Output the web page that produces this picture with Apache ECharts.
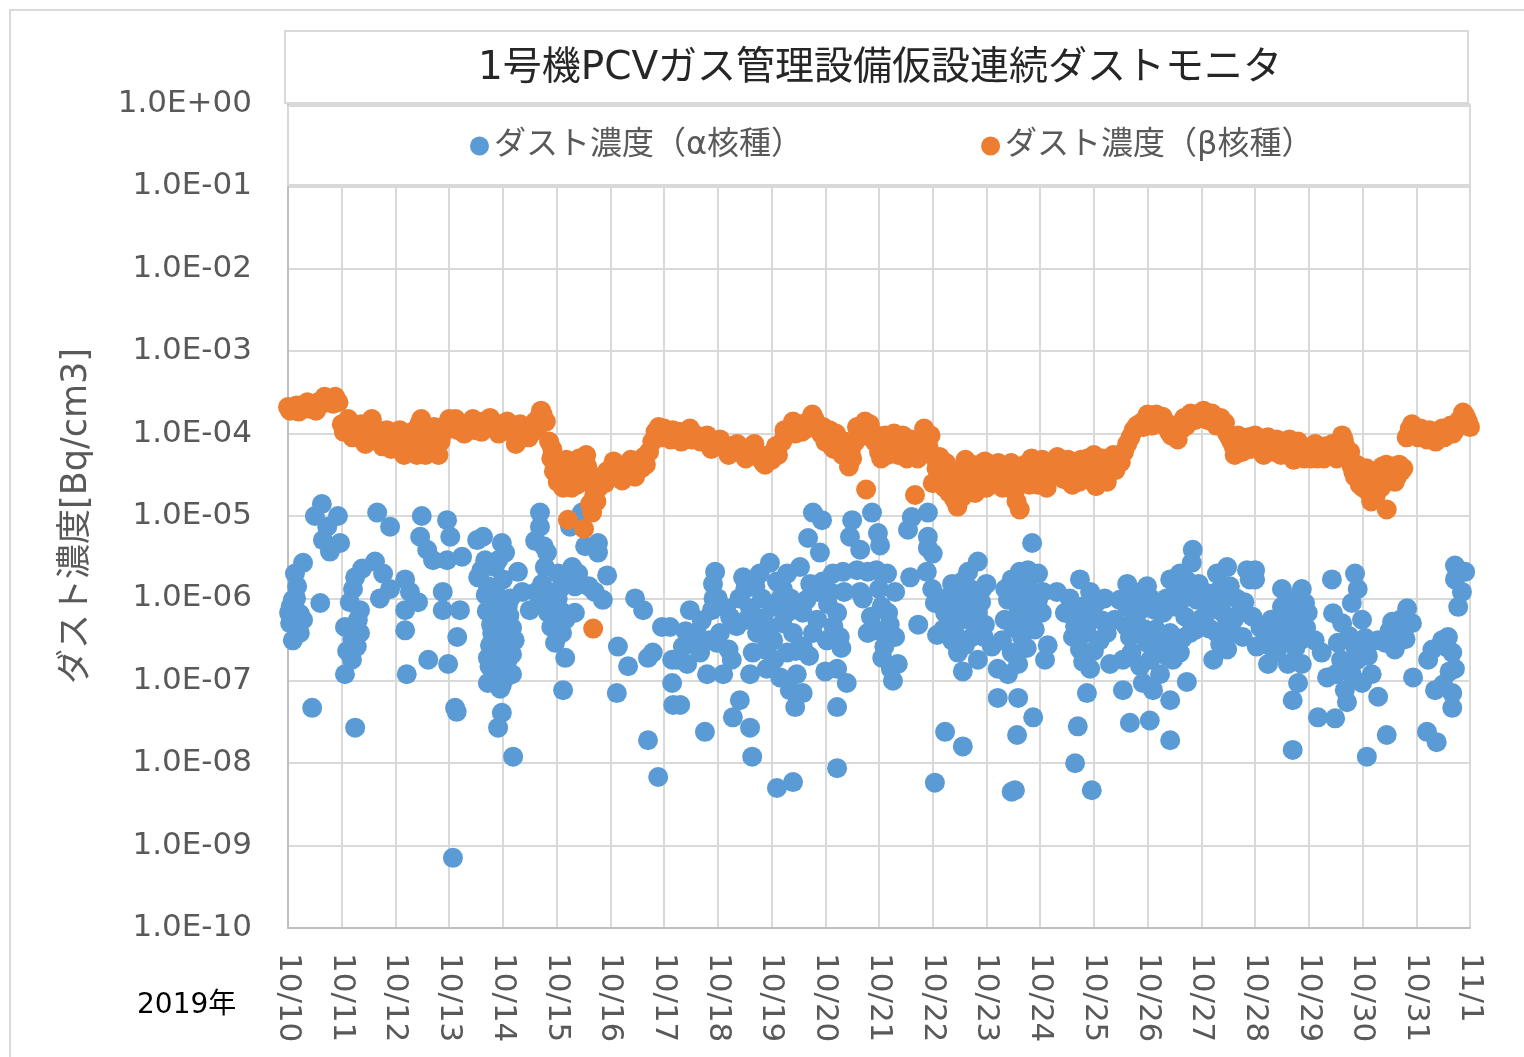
<!DOCTYPE html>
<html>
<head>
<meta charset="utf-8">
<script src="https://cdn.jsdelivr.net/npm/echarts@6/dist/echarts.min.js"></script>
<style>
  html, body { margin: 0; padding: 0; background: #fff; }
  #chart { width: 1524px; height: 1057px; }
</style>
</head>
<body>
<div id="chart"></div>
<script>
// x: days after 2019/10/10 00:00, y: Bq/cm3
const dateLabels = ['10/10', '10/11', '10/12', '10/13', '10/14', '10/15', '10/16', '10/17', '10/18', '10/19', '10/20',
  '10/21', '10/22', '10/23', '10/24', '10/25', '10/26', '10/27', '10/28', '10/29', '10/30', '10/31', '11/1'];

const yTickLabels = ['1.0E-10', '1.0E-09', '1.0E-08', '1.0E-07', '1.0E-06', '1.0E-05',
  '1.0E-04', '1.0E-03', '1.0E-02', '1.0E-01', '1.0E+00'];

const seriesNames = ['ダスト濃度（α核種）', 'ダスト濃度（β核種）'];

const alphaPoints = [
  [0.63, 1.4e-5], [0.50, 1.0e-5], [0.93, 1.0e-5], [0.73, 7.4e-6], [0.65, 5.1e-6], [0.97, 4.7e-6], [0.78, 3.7e-6],
  [0.28, 2.7e-6], [0.13, 2.0e-6], [0.17, 1.4e-6], [0.09, 9.6e-7], [0.60, 8.8e-7], [0.04, 5.0e-7], [0.28, 5.5e-7],
  [0.09, 3.1e-7], [0.22, 3.8e-7], [0.02, 6.7e-7], [0.45, 4.7e-8], [1.25, 2.7e-8],
  [0.15, 1.0e-6], [0.22, 6.5e-7], [0.05, 8.0e-7], [0.18, 4.5e-7],
  [1.62, 2.8e-6], [1.38, 2.3e-6], [1.77, 2.0e-6], [1.21, 1.3e-6], [1.71, 1.0e-6], [1.34, 7.2e-7], [1.06, 4.5e-7],
  [1.34, 3.8e-7], [1.28, 2.6e-7], [1.19, 1.8e-7], [1.06, 1.2e-7], [1.90, 1.3e-6], [1.66, 1.1e-5], [1.90, 7.4e-6],
  [1.25, 1.8e-6], [1.15, 9.0e-7], [1.30, 5.5e-7], [1.20, 3.2e-7], [1.10, 2.3e-7],
  [2.18, 1.7e-6], [2.27, 1.2e-6], [2.42, 9.0e-7], [2.18, 7.2e-7], [2.18, 4.1e-7], [2.21, 1.2e-7],
  [2.49, 1.0e-5], [2.46, 5.6e-6], [2.59, 3.9e-6], [2.70, 2.9e-6], [2.96, 8.9e-6], [3.02, 5.6e-6], [2.96, 2.9e-6],
  [3.24, 3.2e-6], [2.88, 1.2e-6], [2.88, 7.2e-7], [3.20, 7.2e-7], [3.15, 3.4e-7], [2.61, 1.8e-7], [2.98, 1.6e-7],
  [3.11, 4.7e-8], [3.14, 4.2e-8], [3.07, 7.1e-10], [3.52, 5.1e-6],
  [3.63, 5.6e-6], [3.98, 4.7e-6], [4.04, 3.6e-6], [3.85, 2.4e-6], [4.28, 2.1e-6], [3.54, 1.8e-6], [3.72, 1.4e-6],
  [4.36, 1.2e-6], [3.80, 9.6e-7], [4.09, 7.9e-7], [3.85, 5.9e-7], [4.17, 4.4e-7], [3.80, 3.8e-7], [3.98, 2.9e-7],
  [4.17, 2.1e-7], [3.72, 1.9e-7], [3.91, 1.5e-7], [4.17, 1.2e-7], [3.72, 9.4e-8], [3.98, 8.9e-8], [3.98, 4.1e-8],
  [3.91, 2.7e-8], [4.19, 1.2e-8], [3.85, 1.3e-6], [4.04, 5.5e-7], [3.76, 2.7e-7], [4.09, 1.8e-7], [3.85, 1.2e-7],
  [4.04, 9.6e-7], [3.91, 2.9e-6], [3.67, 2.9e-6], [4.22, 3.1e-7], [3.95, 8.0e-8],
  [3.60, 2.2e-6], [3.70, 7.0e-7], [3.78, 4.8e-7], [3.88, 3.4e-7], [3.95, 2.2e-7], [4.12, 2.6e-7], [4.00, 1.6e-7],
  [4.12, 6.2e-7], [3.68, 1.1e-6], [4.00, 1.7e-6], [4.14, 1.0e-6], [3.90, 4.1e-7], [3.75, 1.5e-7], [4.05, 1.1e-7],
  [3.88, 8.6e-7],
  [4.69, 1.1e-5], [4.69, 7.4e-6], [4.60, 5.0e-6], [4.82, 3.6e-6], [4.73, 1.5e-6], [5.03, 2.0e-6], [5.29, 2.4e-6],
  [5.34, 1.4e-6], [4.50, 7.2e-7], [4.84, 6.7e-7], [5.16, 5.5e-7], [5.34, 6.7e-7], [4.97, 2.9e-7], [5.16, 1.9e-7],
  [5.12, 7.7e-8], [5.10, 3.8e-7], [4.91, 9.6e-7], [5.06, 1.3e-6], [4.69, 9.6e-7], [4.97, 5.5e-7],
  [4.78, 2.4e-6], [4.62, 1.2e-6], [4.80, 8.0e-7], [4.90, 4.5e-7], [5.02, 1.0e-6], [5.20, 1.7e-6], [5.08, 7.0e-7],
  [4.76, 4.3e-6], [5.40, 2.0e-6], [5.60, 1.4e-6],
  [5.47, 1.1e-5], [5.25, 7.4e-6], [5.53, 4.3e-6], [5.77, 4.7e-6], [5.77, 3.6e-6], [5.94, 1.9e-6], [5.71, 1.2e-6],
  [5.86, 9.6e-7], [6.46, 1.0e-6], [6.61, 7.2e-7], [6.96, 4.5e-7], [6.14, 2.6e-7], [6.33, 1.5e-7], [6.70, 1.9e-7],
  [6.79, 2.2e-7], [7.15, 1.8e-7], [6.12, 7.1e-8], [6.70, 1.9e-8], [6.89, 6.8e-9], [7.15, 9.4e-8], [7.17, 5.1e-8],
  [7.48, 7.2e-7], [7.11, 4.5e-7], [7.24, 1.8e-7], [7.30, 5.1e-8], [7.76, 2.4e-8], [7.95, 2.1e-6], [7.91, 1.5e-6],
  [7.89, 7.2e-7], [7.61, 3.8e-7], [7.35, 2.6e-7], [7.43, 1.6e-7], [7.80, 1.2e-7], [7.67, 2.2e-7], [8.04, 3.8e-7],
  [7.98, 2.9e-7], [8.10, 1.2e-7], [8.23, 5.9e-7], [8.26, 1.8e-7], [8.47, 1.8e-6], [8.51, 1.3e-6], [8.78, 2.0e-6],
  [8.97, 2.7e-6], [8.82, 1.0e-6], [8.54, 5.5e-7], [8.73, 3.8e-7], [8.65, 2.2e-7], [8.60, 1.2e-7], [8.91, 1.4e-7],
  [8.41, 5.8e-8], [8.28, 3.6e-8], [8.60, 2.7e-8], [8.64, 1.2e-8], [9.10, 5.0e-9], [9.40, 5.9e-9],
  [7.52, 3.1e-7], [7.70, 5.4e-7], [7.85, 3.1e-7], [8.00, 1.0e-6], [8.15, 7.6e-7], [8.35, 4.6e-7], [8.40, 1.0e-6],
  [8.20, 2.4e-7], [7.40, 4.0e-7], [7.92, 1.0e-6],
  [9.29, 2.0e-6], [9.21, 1.3e-6], [9.03, 7.9e-7], [9.29, 6.7e-7], [9.03, 3.1e-7], [9.40, 3.8e-7], [9.29, 2.2e-7],
  [9.16, 1.1e-7], [9.47, 1.2e-7], [9.34, 7.7e-8], [9.58, 7.1e-8], [9.44, 4.8e-8],
  [8.70, 1.4e-6], [8.85, 5.8e-7], [8.95, 4.4e-7], [9.10, 1.6e-6], [9.15, 9.6e-7], [9.35, 1.0e-6], [9.45, 2.3e-7],
  [8.88, 2.4e-7], [9.20, 5.0e-7], [9.05, 1.8e-7], [8.60, 7.6e-7],
  [9.77, 1.1e-5], [9.94, 8.9e-6], [9.68, 5.4e-6], [9.90, 3.6e-6], [9.53, 2.4e-6], [9.72, 1.5e-6], [9.85, 1.2e-6],
  [9.58, 6.7e-7], [9.77, 3.8e-7], [9.58, 2.6e-7], [10.03, 3.1e-7], [10.14, 2.0e-6], [10.33, 2.1e-6], [10.09, 1.2e-6],
  [10.22, 6.7e-7], [10.27, 3.4e-7], [10.22, 1.4e-7], [10.40, 9.4e-8], [10.22, 4.8e-8], [10.22, 8.7e-9],
  [9.65, 9.6e-7], [9.85, 5.5e-7], [9.95, 1.6e-6], [10.05, 8.5e-7], [10.15, 4.6e-7], [10.35, 1.2e-6], [10.30, 2.5e-7],
  [9.70, 2.0e-7], [10.00, 1.3e-7],
  [10.50, 8.9e-6], [10.46, 5.6e-6], [10.65, 3.9e-6], [10.59, 2.2e-6], [10.65, 1.2e-6], [10.79, 3.8e-7],
  [10.87, 1.1e-5], [10.98, 6.2e-6], [11.02, 4.4e-6], [10.79, 2.1e-6], [10.92, 4.1e-7], [11.15, 2.0e-6], [11.30, 1.2e-6],
  [11.17, 6.7e-7], [11.30, 3.4e-7], [11.06, 1.9e-7], [11.35, 1.6e-7], [11.26, 1.0e-7], [11.11, 3.8e-7], [11.58, 1.8e-6],
  [11.73, 4.8e-7], [11.61, 9.7e-6], [11.91, 1.1e-5], [11.54, 6.8e-6], [11.91, 5.6e-6], [11.91, 4.1e-6], [11.89, 2.1e-6],
  [11.99, 1.3e-6], [12.04, 8.8e-7],
  [10.70, 1.0e-6], [10.85, 6.0e-7], [11.00, 1.3e-6], [11.05, 8.0e-7], [11.20, 4.8e-7], [11.10, 2.6e-7], [11.22, 1.4e-7],
  [10.95, 2.2e-6], [12.00, 3.5e-6],
  [12.84, 2.8e-6], [12.66, 2.1e-6], [12.36, 1.5e-6], [12.92, 1.3e-6], [12.60, 1.0e-6], [12.23, 6.7e-7], [12.54, 5.5e-7],
  [12.84, 6.7e-7], [12.08, 3.6e-7], [12.36, 3.1e-7], [12.73, 3.4e-7], [12.47, 2.2e-7], [12.84, 1.8e-7], [12.56, 1.3e-7],
  [13.10, 2.6e-7], [12.23, 2.4e-8], [12.56, 1.6e-8], [12.04, 5.8e-9], [12.41, 9.6e-7], [12.69, 9.6e-7], [12.28, 4.8e-7],
  [12.97, 4.8e-7], [12.60, 2.7e-7],
  [12.15, 1.0e-6], [12.30, 7.5e-7], [12.45, 6.3e-7], [12.50, 1.4e-6], [12.70, 1.3e-6], [12.75, 8.0e-7], [12.90, 9.0e-7],
  [12.40, 4.0e-7], [12.65, 6.0e-7], [12.95, 3.4e-7], [12.20, 4.2e-7], [12.80, 4.0e-7], [12.55, 1.6e-6], [13.00, 1.5e-6],
  [13.21, 1.4e-7], [13.40, 1.2e-7], [13.59, 1.6e-7], [13.21, 6.2e-8], [13.59, 6.2e-8], [13.87, 3.6e-8], [13.57, 2.2e-8],
  [13.47, 4.5e-9], [13.53, 4.7e-9], [13.47, 1.7e-6], [13.77, 2.2e-6], [13.96, 2.0e-6], [13.40, 9.6e-7], [13.66, 1.0e-6],
  [13.96, 9.6e-7], [13.34, 5.5e-7], [13.72, 5.5e-7], [14.03, 6.7e-7], [13.29, 3.1e-7], [13.66, 3.4e-7], [13.47, 2.2e-7],
  [13.85, 4.7e-6], [14.14, 2.7e-7], [14.09, 1.8e-7], [14.31, 1.2e-6], [14.46, 6.7e-7],
  [13.35, 1.3e-6], [13.55, 1.5e-6], [13.60, 7.0e-7], [13.80, 1.3e-6], [13.85, 7.5e-7], [13.50, 4.4e-7], [13.75, 2.5e-7],
  [13.90, 4.2e-7], [14.05, 1.2e-6], [13.62, 2.1e-6],
  [14.50, 6.7e-7], [14.74, 1.7e-6], [14.93, 1.2e-6], [14.68, 6.7e-7], [14.98, 6.7e-7], [14.61, 3.4e-7], [14.87, 3.8e-7],
  [14.74, 2.4e-7], [14.93, 1.4e-7], [15.24, 3.8e-7], [15.30, 1.6e-7], [14.87, 7.1e-8], [14.70, 2.8e-8], [14.65, 1.0e-8],
  [14.96, 4.7e-9], [15.39, 5.5e-7], [15.11, 3.1e-7], [15.48, 9.6e-7],
  [14.55, 1.0e-6], [14.80, 8.0e-7], [14.65, 4.6e-7], [15.05, 9.0e-7], [15.15, 5.4e-7], [14.80, 1.7e-7], [15.00, 2.3e-7],
  [15.20, 1.0e-6], [14.90, 5.2e-7],
  [15.62, 1.5e-6], [15.62, 7.9e-7], [15.86, 1.2e-6], [15.99, 1.4e-6], [15.80, 5.0e-7], [15.67, 3.4e-7], [15.99, 2.9e-7],
  [15.54, 1.8e-7], [15.86, 1.5e-7], [15.54, 7.7e-8], [15.91, 9.4e-8], [16.10, 7.7e-8], [15.67, 3.1e-8], [16.04, 3.3e-8],
  [16.42, 1.9e-8], [16.42, 5.8e-8], [16.23, 1.2e-7], [16.47, 1.8e-7], [16.73, 9.7e-8], [16.14, 7.2e-7],
  [15.70, 1.0e-6], [15.75, 6.5e-7], [15.90, 7.5e-7], [16.05, 1.0e-6], [15.95, 4.2e-7], [16.15, 4.2e-7], [15.70, 2.2e-7],
  [16.05, 1.8e-7], [16.20, 2.6e-7], [15.60, 4.6e-7],
  [16.29, 6.7e-7], [16.42, 1.7e-6], [16.60, 2.0e-6], [16.84, 3.9e-6], [16.82, 2.7e-6], [16.84, 1.4e-6], [16.66, 1.0e-6],
  [16.92, 9.6e-7], [16.42, 3.8e-7], [16.79, 3.8e-7], [16.60, 2.2e-7], [16.97, 5.5e-7],
  [16.35, 1.0e-6], [16.50, 8.0e-7], [16.55, 1.4e-6], [16.70, 6.0e-7], [16.90, 4.2e-7], [16.65, 3.3e-7], [16.50, 2.8e-7],
  [16.75, 1.6e-6], [16.95, 1.5e-6], [16.35, 2.0e-7],
  [17.29, 2.0e-6], [17.48, 2.4e-6], [17.29, 1.2e-6], [17.53, 1.4e-6], [17.10, 6.7e-7], [17.40, 6.7e-7], [17.72, 6.7e-7],
  [17.29, 3.8e-7], [17.59, 3.8e-7], [17.77, 3.4e-7], [17.48, 2.4e-7], [17.22, 1.8e-7], [17.85, 2.2e-6], [17.90, 1.7e-6],
  [18.03, 2.6e-7], [17.16, 9.6e-7], [18.00, 2.2e-6], [18.00, 1.7e-6],
  [17.05, 1.2e-6], [17.20, 8.5e-7], [17.35, 9.0e-7], [17.45, 4.5e-7], [17.60, 5.5e-7], [17.65, 1.0e-6], [17.80, 9.0e-7],
  [17.35, 2.8e-7], [17.15, 4.3e-7], [17.95, 6.0e-7],
  [18.50, 1.3e-6], [18.87, 1.3e-6], [18.50, 7.9e-7], [18.93, 8.8e-7], [18.37, 3.8e-7], [18.18, 2.9e-7], [18.74, 5.0e-7],
  [18.98, 6.7e-7], [19.11, 3.1e-7], [18.61, 3.1e-7], [18.24, 1.6e-7], [18.61, 1.6e-7], [18.87, 1.6e-7], [18.80, 9.4e-8],
  [18.70, 5.8e-8], [18.70, 1.45e-8], [18.46, 5.5e-7], [18.84, 3.1e-7], [18.65, 9.6e-7],
  [18.10, 4.4e-7], [18.30, 5.5e-7], [18.40, 2.2e-7], [18.55, 4.2e-7], [18.70, 7.0e-7], [18.75, 2.5e-7], [18.95, 4.4e-7],
  [18.30, 2.6e-7],
  [19.43, 1.7e-6], [19.86, 2.0e-6], [19.91, 1.3e-6], [19.80, 8.8e-7], [19.62, 5.0e-7], [19.99, 5.5e-7], [19.24, 2.2e-7],
  [19.54, 2.9e-7], [19.86, 2.6e-7], [19.34, 1.1e-7], [19.80, 1.2e-7], [20.17, 1.2e-7], [19.67, 7.7e-8], [19.99, 9.4e-8],
  [19.71, 5.5e-8], [20.29, 6.4e-8], [19.17, 3.6e-8], [19.49, 3.5e-8], [20.08, 1.2e-8], [20.45, 2.2e-8],
  [19.50, 1.2e-7], [19.60, 1.8e-7], [19.75, 3.5e-7], [19.90, 1.8e-7], [20.05, 3.3e-7], [19.45, 6.6e-7], [20.10, 2.0e-7],
  [20.29, 3.1e-7], [20.42, 2.9e-7], [20.55, 5.2e-7], [20.83, 7.6e-7], [20.92, 5.0e-7], [20.66, 3.8e-7], [20.94, 1.1e-7],
  [20.50, 4.0e-7], [20.70, 5.5e-7], [20.60, 2.4e-7], [20.80, 3.2e-7],
  [21.22, 1.8e-7], [21.48, 3.1e-7], [21.59, 3.4e-7], [21.67, 2.2e-7], [21.72, 1.4e-7], [21.35, 7.7e-8], [21.67, 7.1e-8],
  [21.67, 4.7e-8], [21.20, 2.4e-8], [21.38, 1.8e-8], [21.72, 2.5e-6], [21.91, 2.1e-6], [21.72, 1.7e-6], [21.85, 1.2e-6],
  [21.78, 7.9e-7], [21.30, 2.4e-7], [21.55, 2.6e-7], [21.62, 1.3e-7], [21.50, 9.0e-8]
];

const betaPoints = [
  [0.00, 2.1e-4], [0.08, 2.0e-4], [0.16, 2.2e-4], [0.24, 2.1e-4], [0.32, 2.2e-4], [0.40, 2.0e-4], [0.48, 2.2e-4],
  [0.56, 2.4e-4], [0.64, 2.3e-4], [0.72, 2.5e-4], [0.80, 2.6e-4], [0.88, 2.8e-4], [0.94, 2.4e-4],
  [0.04, 1.9e-4], [0.20, 1.85e-4], [0.36, 2.4e-4], [0.52, 1.9e-4], [0.68, 2.8e-4], [0.84, 2.3e-4],
  [1.00, 1.3e-4], [1.08, 1.2e-4], [1.16, 1.25e-4], [1.24, 1.1e-4], [1.32, 1.0e-4], [1.40, 1.1e-4], [1.48, 9.0e-5],
  [1.56, 1.5e-4], [1.64, 1.0e-4], [1.72, 8.0e-5], [1.80, 9.0e-5], [1.88, 7.5e-5], [1.96, 9.5e-5],
  [1.04, 1.05e-4], [1.12, 1.5e-4], [1.20, 9.0e-5], [1.36, 1.3e-4], [1.44, 7.5e-5], [1.60, 1.2e-4], [1.76, 7.0e-5],
  [1.84, 1.1e-4], [1.92, 6.5e-5],
  [2.04, 8.0e-5], [2.12, 6.5e-5], [2.20, 7.0e-5], [2.28, 9.0e-5], [2.36, 6.0e-5], [2.44, 1.3e-4], [2.52, 8.5e-5],
  [2.60, 6.0e-5], [2.68, 1.0e-4], [2.76, 6.5e-5], [2.84, 8.0e-5], [2.92, 1.1e-4], [3.00, 1.5e-4],
  [2.08, 1.1e-4], [2.16, 5.5e-5], [2.32, 1.05e-4], [2.40, 5.5e-5], [2.48, 1.5e-4], [2.56, 5.5e-5], [2.72, 1.2e-4],
  [2.80, 5.5e-5], [2.88, 1.0e-4], [2.96, 1.3e-4],
  [3.08, 1.3e-4], [3.16, 1.1e-4], [3.24, 1.3e-4], [3.32, 1.2e-4], [3.40, 1.35e-4], [3.48, 1.1e-4], [3.56, 1.25e-4],
  [3.64, 1.4e-4], [3.72, 1.2e-4], [3.80, 1.35e-4], [3.88, 1.15e-4], [3.96, 1.3e-4], [4.04, 1.1e-4], [4.12, 1.2e-4],
  [4.20, 1.0e-4], [4.28, 8.5e-5], [4.36, 1.1e-4], [4.44, 1.2e-4], [4.52, 1.1e-4], [4.60, 1.4e-4], [4.68, 1.6e-4],
  [4.74, 1.7e-4], [4.80, 1.4e-4],
  [3.12, 1.5e-4], [3.28, 1.0e-4], [3.44, 1.5e-4], [3.60, 1.05e-4], [3.76, 1.55e-4], [3.92, 1.0e-4], [4.08, 1.4e-4],
  [4.24, 7.5e-5], [4.32, 1.3e-4], [4.48, 9.0e-5], [4.56, 1.3e-4], [4.64, 1.1e-4], [4.71, 1.9e-4],
  [4.86, 8.0e-5], [4.90, 5.0e-5], [4.95, 3.5e-5], [5.00, 4.5e-5], [5.05, 2.8e-5], [5.10, 3.8e-5], [5.15, 2.5e-5],
  [5.20, 3.2e-5], [5.25, 4.2e-5], [5.30, 2.6e-5], [5.35, 3.5e-5], [5.40, 4.5e-5], [5.45, 3.0e-5], [5.50, 3.8e-5],
  [5.55, 5.5e-5], [5.60, 3.4e-5], [5.21, 9.0e-6], [5.51, 7.0e-6], [5.68, 4.3e-7],
  [4.92, 6.5e-5], [5.02, 2.6e-5], [5.12, 2.2e-5], [5.18, 4.8e-5], [5.28, 2.2e-5], [5.38, 2.4e-5], [5.42, 5.0e-5],
  [5.48, 2.6e-5], [5.57, 4.0e-5],
  [5.62, 1.4e-5], [5.66, 1.1e-5], [5.70, 1.8e-5], [5.74, 1.5e-5], [5.78, 2.2e-5],
  [5.86, 2.8e-5], [5.94, 3.5e-5], [6.02, 3.0e-5], [6.10, 4.0e-5], [6.18, 3.2e-5], [6.26, 3.6e-5], [6.34, 4.2e-5],
  [6.42, 3.4e-5], [6.50, 4.5e-5], [6.58, 3.8e-5], [6.66, 4.2e-5], [6.72, 6.0e-5], [6.78, 8.0e-5], [6.84, 1.05e-4],
  [6.90, 1.2e-4],
  [5.90, 2.5e-5], [6.06, 4.6e-5], [6.22, 2.7e-5], [6.38, 4.8e-5], [6.46, 3.0e-5], [6.62, 5.2e-5],
  [6.96, 9.0e-5], [7.04, 1.0e-4], [7.12, 8.5e-5], [7.20, 9.5e-5], [7.28, 1.05e-4], [7.36, 9.0e-5], [7.44, 1.0e-4],
  [7.52, 8.5e-5], [7.60, 9.5e-5], [7.68, 8.0e-5], [7.76, 8.5e-5], [7.84, 7.5e-5],
  [7.00, 1.15e-4], [7.16, 1.1e-4], [7.32, 8.0e-5], [7.48, 1.15e-4], [7.64, 8.5e-5], [7.80, 9.5e-5], [7.88, 6.5e-5],
  [7.92, 8.0e-5], [8.00, 7.0e-5], [8.08, 7.5e-5], [8.16, 6.5e-5], [8.24, 7.0e-5], [8.32, 6.0e-5], [8.40, 7.0e-5],
  [8.48, 6.5e-5], [8.56, 5.5e-5], [8.64, 6.5e-5], [8.72, 6.0e-5], [8.80, 5.0e-5], [8.88, 4.2e-5], [8.96, 5.5e-5],
  [9.04, 6.0e-5], [9.12, 5.5e-5],
  [8.04, 8.5e-5], [8.20, 5.5e-5], [8.36, 7.5e-5], [8.52, 5.0e-5], [8.68, 7.5e-5], [8.84, 4.5e-5], [9.00, 4.8e-5],
  [9.08, 7.0e-5],
  [9.20, 8.0e-5], [9.28, 1.0e-4], [9.36, 1.2e-4], [9.44, 1.0e-4], [9.52, 1.3e-4], [9.60, 1.1e-4], [9.68, 1.4e-4],
  [9.76, 1.7e-4], [9.84, 1.3e-4],
  [9.24, 1.1e-4], [9.40, 1.4e-4], [9.56, 1.05e-4], [9.72, 1.2e-4], [9.80, 1.5e-4], [9.88, 1.1e-4],
  [9.92, 1.0e-4], [10.00, 8.0e-5], [10.08, 1.1e-4], [10.16, 6.5e-5], [10.24, 8.5e-5], [10.32, 5.5e-5], [10.40, 7.0e-5],
  [10.44, 4.0e-5], [10.50, 5.0e-5], [10.56, 8.0e-5], [10.62, 1.0e-4], [10.68, 1.2e-4], [10.74, 1.4e-4], [10.80, 1.1e-4],
  [10.86, 9.0e-5], [10.76, 2.1e-5],
  [9.96, 1.2e-4], [10.04, 9.0e-5], [10.12, 7.0e-5], [10.20, 1.0e-4], [10.28, 6.5e-5], [10.36, 8.0e-5], [10.48, 6.5e-5],
  [10.59, 1.2e-4], [10.71, 9.5e-5], [10.83, 1.3e-4],
  [10.92, 8.0e-5], [11.00, 6.0e-5], [11.08, 7.5e-5], [11.16, 5.5e-5], [11.24, 7.0e-5], [11.32, 9.0e-5], [11.40, 6.5e-5],
  [11.48, 8.0e-5], [11.56, 6.0e-5], [11.64, 7.0e-5], [11.72, 5.0e-5], [11.80, 8.0e-5], [11.88, 1.0e-4], [11.96, 9.5e-5],
  [11.67, 1.8e-5], [12.00, 2.5e-5],
  [10.96, 9.5e-5], [11.04, 5.0e-5], [11.12, 9.5e-5], [11.20, 6.0e-5], [11.28, 1.0e-4], [11.36, 5.5e-5], [11.44, 9.5e-5],
  [11.52, 5.0e-5], [11.60, 8.5e-5], [11.76, 6.5e-5], [11.84, 1.15e-4], [11.92, 7.0e-5],
  [12.04, 5.0e-5], [12.10, 3.0e-5], [12.16, 4.0e-5], [12.22, 2.2e-5], [12.28, 3.5e-5], [12.34, 2.6e-5], [12.40, 1.6e-5],
  [12.46, 1.3e-5], [12.52, 2.4e-5], [12.58, 4.0e-5], [12.64, 3.0e-5], [12.70, 2.0e-5], [12.76, 3.5e-5], [12.82, 2.6e-5],
  [12.88, 4.2e-5], [12.94, 3.0e-5], [13.00, 2.2e-5], [13.06, 3.2e-5], [13.12, 2.5e-5],
  [12.07, 3.8e-5], [12.13, 5.2e-5], [12.25, 4.4e-5], [12.31, 1.9e-5], [12.43, 2.8e-5], [12.55, 1.7e-5], [12.61, 4.8e-5],
  [12.73, 4.2e-5], [12.79, 1.9e-5], [12.85, 3.4e-5], [12.91, 2.2e-5], [12.97, 4.6e-5], [13.03, 2.7e-5], [13.09, 4.0e-5],
  [13.18, 3.5e-5], [13.26, 2.8e-5], [13.34, 4.0e-5], [13.42, 2.2e-5], [13.50, 3.0e-5], [13.56, 1.5e-5], [13.62, 1.2e-5],
  [13.68, 2.5e-5], [13.76, 3.5e-5], [13.84, 5.0e-5], [13.92, 3.2e-5], [14.00, 4.0e-5], [14.08, 2.8e-5], [14.16, 3.8e-5],
  [14.24, 4.5e-5], [14.32, 5.2e-5], [14.40, 3.5e-5], [14.48, 4.0e-5],
  [13.22, 4.4e-5], [13.30, 2.2e-5], [13.38, 3.2e-5], [13.46, 4.4e-5], [13.53, 2.0e-5], [13.72, 4.2e-5], [13.80, 2.4e-5],
  [13.88, 4.2e-5], [13.96, 2.4e-5], [14.04, 4.8e-5], [14.12, 2.2e-5], [14.20, 3.0e-5], [14.28, 3.5e-5], [14.36, 4.2e-5],
  [14.44, 2.8e-5],
  [14.56, 3.0e-5], [14.64, 4.5e-5], [14.72, 2.6e-5], [14.80, 3.8e-5], [14.88, 5.0e-5], [14.96, 4.2e-5], [15.04, 2.3e-5],
  [15.12, 4.0e-5], [15.20, 3.2e-5], [15.28, 4.8e-5], [15.36, 5.5e-5], [15.44, 4.5e-5],
  [14.52, 4.8e-5], [14.60, 2.4e-5], [14.68, 3.6e-5], [14.76, 4.8e-5], [14.84, 2.8e-5], [14.92, 3.4e-5], [15.00, 5.5e-5],
  [15.08, 2.8e-5], [15.16, 5.0e-5], [15.24, 2.6e-5], [15.32, 3.8e-5], [15.40, 3.6e-5],
  [15.50, 4.5e-5], [15.56, 6.0e-5], [15.62, 7.5e-5], [15.68, 9.0e-5], [15.74, 1.1e-4], [15.80, 1.25e-4],
  [15.88, 1.35e-4], [15.96, 1.45e-4], [16.04, 1.55e-4], [16.12, 1.4e-4], [16.20, 1.5e-4], [16.28, 1.6e-4], [16.36, 1.2e-4],
  [16.44, 9.5e-5], [16.52, 1.0e-4], [16.60, 1.3e-4], [16.68, 1.55e-4], [16.76, 1.4e-4], [16.84, 1.6e-4],
  [15.92, 1.2e-4], [16.00, 1.7e-4], [16.08, 1.25e-4], [16.16, 1.7e-4], [16.24, 1.3e-4], [16.32, 1.4e-4], [16.40, 1.05e-4],
  [16.48, 1.25e-4], [16.56, 8.5e-5], [16.64, 1.15e-4], [16.72, 1.25e-4], [16.80, 1.75e-4], [16.88, 1.45e-4],
  [16.92, 1.7e-4], [17.00, 1.8e-4], [17.08, 1.65e-4], [17.16, 1.5e-4], [17.24, 1.6e-4], [17.32, 1.4e-4],
  [16.96, 1.55e-4], [17.04, 1.9e-4], [17.12, 1.45e-4], [17.20, 1.75e-4], [17.28, 1.25e-4], [17.36, 1.55e-4],
  [17.40, 1.2e-4], [17.48, 1.0e-4], [17.56, 8.0e-5], [17.62, 5.5e-5], [17.72, 8.0e-5], [17.80, 7.0e-5], [17.88, 9.0e-5],
  [17.96, 7.5e-5],
  [17.44, 1.35e-4], [17.52, 9.0e-5], [17.60, 7.0e-5], [17.68, 9.5e-5], [17.76, 6.0e-5], [17.84, 8.0e-5], [17.92, 6.5e-5],
  [18.04, 8.0e-5], [18.12, 6.5e-5], [18.20, 7.5e-5], [18.28, 8.5e-5], [18.36, 6.0e-5], [18.44, 7.0e-5], [18.52, 8.0e-5],
  [18.60, 6.5e-5], [18.68, 5.5e-5], [18.76, 7.0e-5], [18.84, 6.0e-5], [18.92, 5.0e-5], [19.00, 6.0e-5], [19.08, 6.5e-5],
  [19.16, 5.0e-5], [19.24, 6.0e-5], [19.32, 7.0e-5], [19.40, 5.5e-5], [19.48, 6.5e-5],
  [18.00, 9.5e-5], [18.08, 7.5e-5], [18.16, 5.5e-5], [18.24, 9.0e-5], [18.32, 7.0e-5], [18.40, 8.5e-5], [18.48, 5.5e-5],
  [18.56, 7.5e-5], [18.64, 8.5e-5], [18.72, 4.8e-5], [18.80, 8.0e-5], [18.88, 7.0e-5], [18.96, 6.5e-5], [19.04, 5.0e-5],
  [19.12, 7.5e-5], [19.20, 6.5e-5], [19.28, 5.0e-5], [19.36, 6.0e-5], [19.44, 7.5e-5], [19.52, 5.0e-5],
  [19.56, 8.0e-5], [19.62, 9.5e-5], [19.68, 7.0e-5], [19.74, 5.0e-5], [19.80, 4.0e-5], [19.86, 3.0e-5], [19.92, 3.5e-5],
  [19.98, 2.5e-5], [20.04, 3.0e-5], [20.10, 2.0e-5], [20.16, 1.5e-5], [20.22, 2.5e-5], [20.28, 3.5e-5], [20.34, 2.2e-5],
  [20.45, 1.2e-5],
  [19.59, 6.5e-5], [19.65, 8.5e-5], [19.71, 5.5e-5], [19.77, 6.0e-5], [19.83, 3.4e-5], [19.89, 4.2e-5], [19.95, 2.4e-5],
  [20.01, 2.2e-5], [20.07, 3.8e-5], [20.13, 2.8e-5], [20.19, 3.2e-5], [20.25, 1.8e-5], [20.31, 2.8e-5], [20.37, 4.0e-5],
  [20.40, 3.5e-5], [20.48, 2.8e-5], [20.56, 4.0e-5], [20.64, 3.0e-5], [20.72, 3.5e-5], [20.76, 3.8e-5], [20.82, 9.0e-5],
  [20.88, 1.15e-4],
  [20.44, 4.2e-5], [20.52, 3.2e-5], [20.60, 2.6e-5], [20.68, 4.2e-5],
  [20.96, 1.1e-4], [21.04, 9.0e-5], [21.12, 1.0e-4], [21.20, 8.5e-5], [21.28, 9.5e-5], [21.36, 8.0e-5], [21.44, 1.0e-4],
  [21.52, 9.0e-5], [21.60, 1.1e-4], [21.68, 1.0e-4], [21.76, 1.3e-4], [21.84, 1.5e-4], [21.90, 1.7e-4], [21.96, 1.4e-4],
  [22.00, 1.2e-4],
  [20.92, 1.3e-4], [21.00, 9.5e-5], [21.08, 1.15e-4], [21.16, 9.5e-5], [21.24, 1.1e-4], [21.32, 9.0e-5], [21.40, 8.5e-5],
  [21.48, 1.15e-4], [21.56, 9.5e-5], [21.64, 1.25e-4], [21.72, 1.1e-4], [21.80, 1.45e-4], [21.87, 1.8e-4], [21.93, 1.55e-4]
];

const fontFamily = "'DejaVu Sans', 'Noto Sans CJK JP', sans-serif";
const gridColor = '#d9d9d9';

var chartDom = document.getElementById('chart');
var myChart = echarts.init(chartDom);

myChart.setOption({
  animation: false,
  backgroundColor: '#fff',
  title: {
    text: '1号機PCVガス管理設備仮設連続ダストモニタ',
    left: 875,
    top: 44,
    textAlign: 'center',
    z: 120,
    textStyle: { fontFamily: fontFamily, fontSize: 39, fontWeight: 'normal', color: '#262626' }
  },
  legend: {
    data: seriesNames,
    left: 465,
    top: 125,
    icon: 'circle',
    itemWidth: 19,
    itemHeight: 19,
    itemGap: 178,
    z: 120,
    textStyle: { fontFamily: fontFamily, fontSize: 32, color: '#595959' }
  },
  grid: { left: 288, right: 54, top: 104, bottom: 129 },
  xAxis: {
    type: 'value',
    min: 0,
    max: 22,
    interval: 1,
    axisLine: { show: true, lineStyle: { color: '#bfbfbf', width: 2 } },
    axisTick: { show: false },
    splitLine: { show: true, lineStyle: { color: gridColor, width: 2 } },
    axisLabel: {
      rotate: -90,
      margin: 25,
      fontFamily: fontFamily,
      fontSize: 31,
      color: '#595959',
      formatter: function (v) { return dateLabels[Math.round(v)]; }
    }
  },
  yAxis: {
    type: 'log',
    logBase: 10,
    min: 1e-10,
    max: 1,
    interval: 1,
    name: 'ダスト濃度[Bq/cm3]',
    nameLocation: 'middle',
    nameGap: 194,
    nameTextStyle: { fontFamily: fontFamily, fontSize: 35, color: '#595959' },
    axisLine: { show: true, lineStyle: { color: '#bfbfbf', width: 2 } },
    axisTick: { show: false },
    splitLine: { show: true, lineStyle: { color: gridColor, width: 2 } },
    axisLabel: {
      margin: 36,
      fontFamily: fontFamily,
      fontSize: 31,
      color: '#595959',
      formatter: function (v) { return yTickLabels[Math.round(Math.log10(v)) + 10]; }
    }
  },
  graphic: [
    {
      type: 'rect', silent: true, z: -10,
      shape: { x: 10, y: 10, width: 1540, height: 1080 },
      style: { fill: null, stroke: gridColor, lineWidth: 2 }
    },
    {
      type: 'rect', silent: true, z: 100,
      shape: { x: 285, y: 31, width: 1183, height: 72 },
      style: { fill: '#fff', stroke: gridColor, lineWidth: 2 }
    },
    {
      type: 'rect', silent: true, z: 100,
      shape: { x: 288, y: 106, width: 1182, height: 79 },
      style: { fill: '#fff', stroke: gridColor, lineWidth: 2 }
    },
    {
      type: 'text', silent: true, z: 100,
      left: 137, top: 992,
      style: { text: '2019年', fill: '#000', font: "28px 'DejaVu Sans', 'Noto Sans CJK JP', sans-serif" }
    }
  ],
  series: [
    {
      name: seriesNames[0],
      type: 'scatter',
      data: alphaPoints,
      symbolSize: 20,
      itemStyle: { color: '#5B9BD5', opacity: 1 },
      emphasis: { disabled: true }
    },
    {
      name: seriesNames[1],
      type: 'scatter',
      data: betaPoints,
      symbolSize: 20,
      itemStyle: { color: '#ED7D31', opacity: 1 },
      emphasis: { disabled: true }
    }
  ]
});
</script>
</body>
</html>
